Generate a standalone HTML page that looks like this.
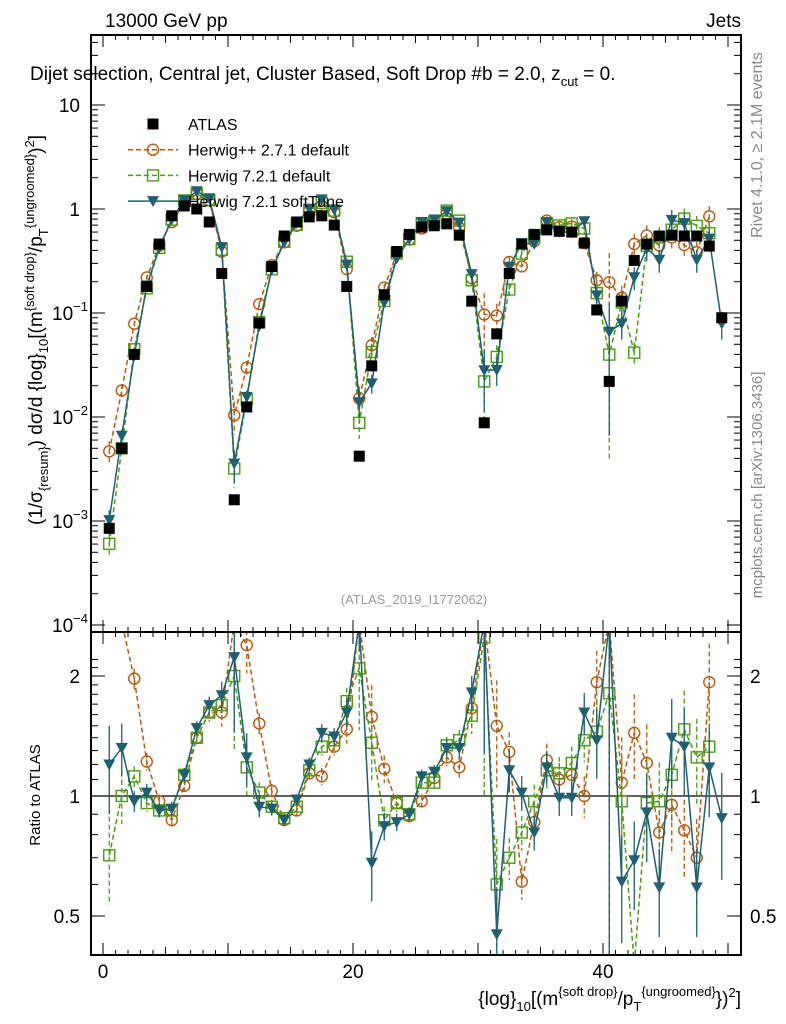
<!DOCTYPE html>
<html><head><meta charset="utf-8"><style>
html,body{margin:0;padding:0;background:#fff;width:786px;height:1024px;overflow:hidden;}
svg{display:block;font-family:"Liberation Sans",sans-serif;}
</style></head><body>
<svg id="c" width="786" height="1024" xmlns="http://www.w3.org/2000/svg">
<rect width="786" height="1024" fill="#fff"/>
<g id="g"></g>
<text x="105" y="27" font-size="19">13000 GeV pp</text>
<text x="741" y="27" font-size="19" text-anchor="end">Jets</text>
<text x="30" y="80" font-size="19">Dijet selection, Central jet, Cluster Based, Soft Drop #b = 2.0, z<tspan dy="6" font-size="13">cut</tspan><tspan dy="-6"> = 0.</tspan></text>
<text x="414" y="604" font-size="13" fill="#999" text-anchor="middle">(ATLAS_2019_I1772062)</text>
<text transform="translate(762,145) rotate(-90)" font-size="16" fill="#888" text-anchor="middle">Rivet 4.1.0, ≥ 2.1M events</text>
<text transform="translate(762,485) rotate(-90)" font-size="15" fill="#888" text-anchor="middle">mcplots.cern.ch [arXiv:1306.3436]</text>
<text transform="translate(42,330) rotate(-90)" font-size="19" text-anchor="middle">(1/σ<tspan dy="6" font-size="13">{resum}</tspan><tspan dy="-6">) dσ/d {log}</tspan><tspan dy="6" font-size="13">10</tspan><tspan dy="-6">[(m</tspan><tspan dy="-8" font-size="13">{soft drop}</tspan><tspan dy="8">/p</tspan><tspan dy="6" font-size="13">T</tspan><tspan dy="-14" font-size="13">{ungroomed}</tspan><tspan dy="8">)</tspan><tspan dy="-8" font-size="13">2</tspan><tspan dy="8">]</tspan></text>
<text transform="translate(40,795) rotate(-90)" font-size="15" text-anchor="middle">Ratio to ATLAS</text>
<text x="741" y="1005" font-size="19" text-anchor="end">{log}<tspan dy="6" font-size="13">10</tspan><tspan dy="-6">[(m</tspan><tspan dy="-9" font-size="13">{soft drop}</tspan><tspan dy="9">/p</tspan><tspan dy="6" font-size="13">T</tspan><tspan dy="-15" font-size="13">{ungroomed}</tspan><tspan dy="9">})</tspan><tspan dy="-8" font-size="13">2</tspan><tspan dy="8">]</tspan></text>
</svg>
<script>
const atlas=[8.5e-4,5e-3,0.04,0.18,0.46,0.86,1.07,1.0,0.75,0.24,1.6e-3,0.0125,0.08,0.28,0.55,0.75,0.84,0.86,0.7,0.18,4.2e-3,0.031,0.15,0.39,0.57,0.67,0.69,0.72,0.56,0.13,8.8e-3,0.063,0.24,0.46,0.57,0.63,0.61,0.6,0.47,0.107,0.022,0.13,0.32,0.46,0.55,0.56,0.55,0.55,0.44,0.09];
const ratioHpp=[5.5,3.6,1.97,1.22,0.97,0.87,1.06,1.40,1.62,1.62,6.5,2.39,1.52,1.03,0.87,0.92,1.14,1.12,1.33,1.47,3.6,1.58,1.17,0.96,0.89,0.97,1.11,1.25,1.18,1.66,11,1.5,1.29,0.61,0.86,1.23,1.10,1.13,1.0,1.93,9,1.08,1.44,1.21,0.81,0.95,0.82,0.70,1.93,null];
const ratioH7=[0.71,1.0,1.12,0.96,0.92,0.92,1.13,1.40,1.62,1.69,2.0,1.18,1.02,0.94,0.88,0.94,1.16,1.33,1.38,1.73,2.09,1.36,0.87,0.96,0.90,1.08,1.08,1.34,1.38,1.59,2.5,0.60,0.70,0.81,0.97,1.16,1.14,1.21,1.38,1.45,1.81,0.97,0.13,0.96,0.97,1.13,1.47,1.25,1.33,null];
const ratioSoft=[1.20,1.32,0.97,1.02,0.92,0.93,1.13,1.48,1.69,1.79,2.23,1.25,0.94,0.93,0.87,0.98,1.20,1.44,1.41,1.62,3.3,0.68,0.84,0.86,0.90,1.12,1.15,1.32,1.32,1.82,3.2,0.45,1.16,1.02,0.81,1.18,0.99,0.99,1.62,1.38,3.0,0.61,0.69,0.91,0.59,1.40,1.33,0.59,1.18,0.88];
const relErr=[0.25,0.15,0.06,0.05,0.04,0.04,0.04,0.04,0.05,0.08,0.35,0.15,0.06,0.04,0.03,0.03,0.04,0.05,0.05,0.08,0.3,0.2,0.08,0.05,0.04,0.04,0.04,0.05,0.06,0.1,0.6,0.3,0.12,0.1,0.1,0.1,0.1,0.1,0.12,0.2,0.9,0.3,0.25,0.25,0.25,0.25,0.25,0.25,0.25,0.3];
const xTicks=[0,20,40];
const mainTicks=[{v:10,t:"10"},{v:1,t:"1"},{v:0.1,t:"10",e:"−1"},{v:0.01,t:"10",e:"−2"},{v:0.001,t:"10",e:"−3"},{v:0.0001,t:"10",e:"−4"}];
const ratioTicks=[0.5,1,2];

const NS="http://www.w3.org/2000/svg";
const g=document.getElementById('g');
const L=91,R=741,MT=35,MB=632,RT=632,RB=955;
const clamp=(y,a,b)=>Math.min(b,Math.max(a,y));
const X=v=>103+12.5*v;
const YM=v=>clamp(209-104*Math.log10(v),MT-10,MB+10);
const YR=r=>clamp(796-398.6*Math.log10(r),RT-10,RB+10);
function el(t,a,p){const e=document.createElementNS(NS,t);for(const k in a)e.setAttribute(k,a[k]);(p||g).appendChild(e);return e;}
const cm=el('clipPath',{id:'cm'});el('rect',{x:L,y:MT,width:R-L,height:MB-MT},cm);
const cr=el('clipPath',{id:'cr'});el('rect',{x:L,y:RT,width:R-L,height:RB-RT},cr);
const gm=el('g',{'clip-path':'url(#cm)'});


const gr=el('g',{'clip-path':'url(#cr)'});


el('line',{x1:L,x2:R,y1:YR(1),y2:YR(1),stroke:'#000','stroke-width':1.3},gr);

const series=[
 {r:ratioHpp,c:'#b35a0e',dash:'5,3',m:'circle',name:'herwigpp'},
 {r:ratioH7,c:'#4a9a14',dash:'5,3',m:'square',name:'herwig7-default'},
 {r:ratioSoft,c:'#1e5f70',dash:'',m:'tri',name:'herwig7-softtune'}];
function marker(p,m,x,y,c,nm){
 let e;
 if(m==='circle')e=el('circle',{cx:x,cy:y,r:5.5,fill:'none',stroke:c,'stroke-width':1.4},p);
 else if(m==='square')e=el('rect',{x:x-5.5,y:y-5.5,width:11,height:11,fill:'none',stroke:c,'stroke-width':1.4},p);
 else if(m==='tri')e=el('path',{d:`M${x-6},${y-5}L${x+6},${y-5}L${x},${y+6}Z`,fill:c},p);
 else e=el('rect',{x:x-5.5,y:y-5.5,width:11,height:11,fill:'#000'},p);
 
 
}
series.forEach(s=>{
 const pm=[],pr=[];
 s.r.forEach((r,i)=>{if(r==null)return;const v=atlas[i]*r;pm.push([X(i+0.5),YM(v)]);pr.push([X(i+0.5),YR(r)]);});
 const lm=el('polyline',{points:pm.map(p=>p.join(',')).join(' '),fill:'none',stroke:s.c,'stroke-width':1.5,'stroke-dasharray':s.dash},gm);
 
 
 const lr=el('polyline',{points:pr.map(p=>p.join(',')).join(' '),fill:'none',stroke:s.c,'stroke-width':1.5,'stroke-dasharray':s.dash},gr);
 
 
 s.r.forEach((r,i)=>{if(r==null)return;const v=atlas[i]*r,x=X(i+0.5),e=relErr[i];
  const lo=Math.max(v*(1-e),1e-6);
  el('line',{x1:x,x2:x,y1:YM(v*(1+e)),y2:YM(lo),stroke:s.c,'stroke-width':1.3,'stroke-dasharray':s.dash},gm);
  el('line',{x1:x,x2:x,y1:YR(r*(1+e)),y2:YR(Math.max(r*(1-e),1e-3)),stroke:s.c,'stroke-width':1.3,'stroke-dasharray':s.dash},gr);
  marker(gm,s.m,x,YM(v),s.c,s.name+'-point');
  marker(gr,s.m,x,YR(r),s.c,s.name+'-ratio-point');});
});
atlas.forEach((v,i)=>marker(gm,'atlas',X(i+0.5),YM(v),'#000','atlas-point'));

[[MT,MB],[RT,RB]].forEach(([t,b])=>{const f=el('rect',{x:L,y:t,width:R-L,height:b-t,fill:'none',stroke:'#000','stroke-width':2});
 });
for(let v=0;v<=50;v++){const x=X(v);if(x>R)break;const len=v%10===0?12:(v%5===0?8:5);
 [[MT,1],[MB,-1],[RT,1],[RB,-1]].forEach(([y,d])=>el('line',{x1:x,x2:x,y1:y,y2:y+d*len,stroke:'#000','stroke-width':1}));}
xTicks.forEach(v=>{const t=el('text',{x:X(v),y:978,'font-size':19,'text-anchor':'middle'});t.textContent=v;
 });
for(let d=-4;d<=1;d++){for(let k=1;k<=9;k++){const v=k*Math.pow(10,d),y=209-104*Math.log10(v);if(y<MT||y>MB)continue;const len=k===1?14:7;
 el('line',{x1:L,x2:L+len,y1:y,y2:y,stroke:'#000'});el('line',{x1:R,x2:R-len,y1:y,y2:y,stroke:'#000'});}}
mainTicks.forEach(o=>{const t=el('text',{x:o.e?70:80,y:YM(o.v)+7,'font-size':19,'text-anchor':o.e?'start':'end'});
 t.textContent=o.t;if(o.e){t.setAttribute('x',52);const s=el('tspan',{dy:-9,'font-size':13},t);s.textContent=o.e;}
 });
[0.5,0.6,0.7,0.8,0.9,1,1.1,1.2,1.3,1.4,1.5,1.6,1.7,1.8,1.9,2,2.1,2.2].forEach(r=>{const y=YR(r);const len=ratioTicks.includes(r)?14:7;
 el('line',{x1:L,x2:L+len,y1:y,y2:y,stroke:'#000'});el('line',{x1:R,x2:R-len,y1:y,y2:y,stroke:'#000'});});
ratioTicks.forEach(r=>{[[80,'end'],[750,'start']].forEach(([x,a])=>{const t=el('text',{x:x,y:YR(r)+7,'font-size':19,'text-anchor':a});t.textContent=r;
 });});
const leg=[['ATLAS','atlas','#000',''],['Herwig++ 2.7.1 default','circle','#b35a0e','5,3'],['Herwig 7.2.1 default','square','#4a9a14','5,3'],['Herwig 7.2.1 softTune','tri','#1e5f70','']];
leg.forEach((o,i)=>{const y=124+i*25.7;const lg=el('g',{});
 
 if(i>0)el('line',{x1:128,x2:178,y1:y,y2:y,stroke:o[2],'stroke-width':1.5,'stroke-dasharray':o[3]},lg);
 marker(lg,o[1],153,y,o[2],'legend-marker');
 const t=el('text',{x:188,y:y+6,'font-size':16},lg);t.textContent=o[0];});
</script>
</body></html>
